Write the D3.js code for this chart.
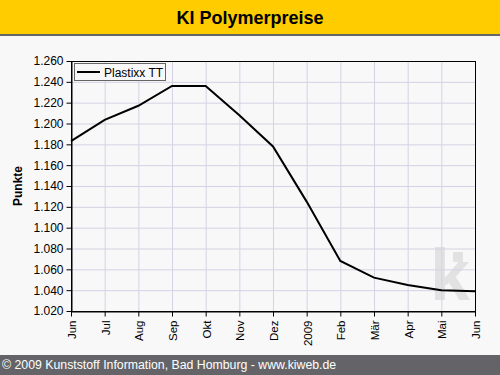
<!DOCTYPE html>
<html><head><meta charset="utf-8">
<script src="https://cdn.jsdelivr.net/npm/d3@7"></script>
<style>
html,body{margin:0;padding:0;background:#f8f8f8;}
svg{display:block;font-family:Arial,"Liberation Sans",sans-serif;}
</style></head>
<body>
<script>
const months = ["Jun","Jul","Aug","Sep","Okt","Nov","Dez","2009","Feb","Mär","Apr","Mai","Jun"];
const values = [1.183,1.2035,1.217,1.236,1.236,1.208,1.178,1.125,1.068,1.052,1.045,1.040,1.039];
const yTicks = [1.020,1.040,1.060,1.080,1.100,1.120,1.140,1.160,1.180,1.200,1.220,1.240,1.260];
const seriesName = "Plastixx TT";
const title = "KI Polymerpreise";
const yLabel = "Punkte";
const footer = "© 2009 Kunststoff Information, Bad Homburg - www.kiweb.de";

const W=500,H=375;
const svg=d3.select("body").append("svg").attr("width",W).attr("height",H);
svg.append("rect").attr("width",W).attr("height",H).attr("fill","#f8f8f8");
// title bar
svg.append("rect").attr("x",0).attr("y",0).attr("width",W).attr("height",35).attr("fill","#ffcc00");
svg.append("rect").attr("x",0).attr("y",34).attr("width",W).attr("height",2).attr("fill","#666666");
svg.append("text").attr("x",250).attr("y",24).attr("text-anchor","middle")
  .attr("font-size",18).attr("font-weight","bold").attr("fill","#000").text(title);
// footer
svg.append("rect").attr("x",0).attr("y",355).attr("width",W).attr("height",20).attr("fill","#646468");
svg.append("text").attr("x",2).attr("y",369).attr("font-size",12.3).attr("fill","#ffffff").text(footer);

const L=71,R=475,T=61,B=311;
const x=d3.scalePoint().domain(d3.range(months.length)).range([L,R]);
const y=d3.scaleLinear().domain([1.020,1.260]).range([B,T]);

// watermark
const wm=svg.append("g").attr("fill","#e2e2e2");
wm.append("text").attr("x",430).attr("y",300).attr("font-size",72).attr("font-weight","bold").text("k");
wm.append("rect").attr("x",453).attr("y",252).attr("width",10).attr("height",10);

// grid
const g=svg.append("g");
g.selectAll(".hg").data(yTicks).join("line")
  .attr("x1",L).attr("x2",R).attr("y1",d=>y(d)+0.5).attr("y2",d=>y(d)+0.5)
  .attr("stroke","#d4d2e4").attr("stroke-width",1);
g.selectAll(".vg").data(d3.range(months.length)).join("line")
  .attr("x1",d=>x(d)+0.5).attr("x2",d=>x(d)+0.5).attr("y1",T).attr("y2",B)
  .attr("stroke","#d4d2e4").attr("stroke-width",1);

// axes
const yAxis=d3.axisLeft(y).tickValues(yTicks).tickSize(5).tickSizeOuter(0).tickPadding(3)
  .tickFormat(d=>d.toFixed(3));
const ya=svg.append("g").attr("transform",`translate(${L+0.5},0)`).call(yAxis);
ya.selectAll("text").attr("font-size",12).attr("fill","#000").attr("font-family","Arial, Liberation Sans, sans-serif");
ya.selectAll("line,path").attr("stroke","#000");

const xAxis=d3.axisBottom(x).tickSize(5).tickSizeOuter(0).tickPadding(3).tickFormat(i=>months[i]);
const xa=svg.append("g").attr("transform",`translate(0,${B+0.5})`).call(xAxis);
xa.selectAll("line,path").attr("stroke","#000");
xa.selectAll("text").attr("font-size",11.5).attr("fill","#000")
  .attr("font-family","Arial, Liberation Sans, sans-serif")
  .attr("transform","rotate(-90)").attr("text-anchor","end")
  .attr("dx",0).attr("dy","0.35em").attr("y",0.5).attr("x",-9);
// frame
svg.append("rect").attr("x",L+0.5).attr("y",T+0.5).attr("width",R-L).attr("height",B-T)
  .attr("fill","none").attr("stroke","#000");

// line
svg.append("path").datum(values)
  .attr("d",d3.line().x((d,i)=>x(i)).y(d=>y(d)))
  .attr("fill","none").attr("stroke","#000").attr("stroke-width",2);

// legend
svg.append("rect").attr("x",74.5).attr("y",63.5).attr("width",91).attr("height",17)
  .attr("fill","#f8f8f8").attr("stroke","#666");
svg.append("line").attr("x1",77).attr("x2",100).attr("y1",72).attr("y2",72).attr("stroke","#000").attr("stroke-width",2);
svg.append("text").attr("x",104).attr("y",76.5).attr("font-size",12).attr("fill","#000").text(seriesName);

// y label
svg.append("text").attr("transform","translate(22,186) rotate(-90)").attr("text-anchor","middle")
  .attr("font-size",12).attr("font-weight","bold").attr("fill","#000").text(yLabel);
</script>
</body></html>
